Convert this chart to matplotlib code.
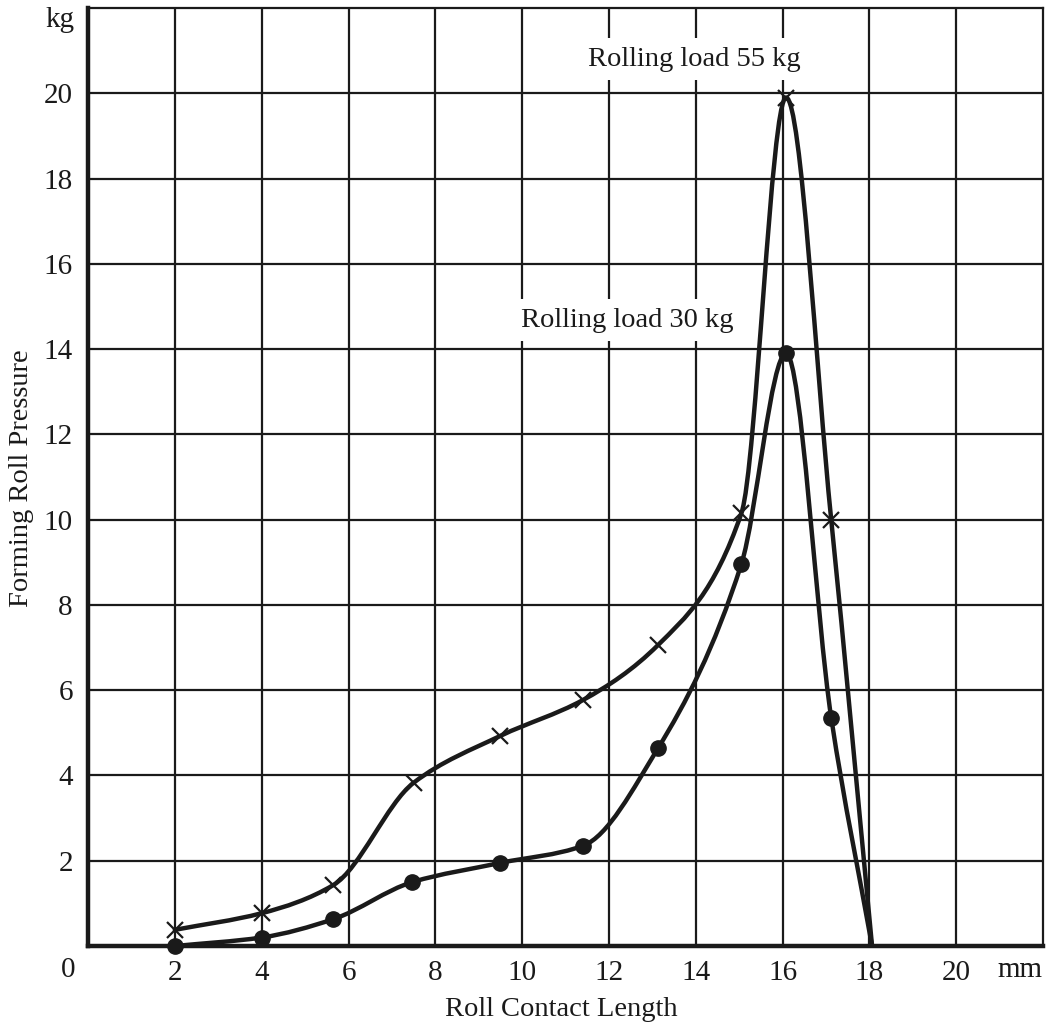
#!/usr/bin/env python3
"""forming roll pressure along the roll contact length"""
import numpy as np
import matplotlib.pyplot as plt
from matplotlib.path import Path
from matplotlib.patches import PathPatch

plt.rcParams['font.family'] = ['Liberation Serif', 'DejaVu Serif']

# rolling load 55 kg (x markers)
x55 = [2.0, 4.0, 5.65, 7.5, 9.5, 11.4, 13.13, 15.05, 16.08, 17.12, 18.06]
y55 = [0.38, 0.77, 1.43, 3.83, 4.93, 5.77, 7.06, 10.15, 19.9, 9.99, 0.0]

# rolling load 30 kg (dots)
x30 = [2.0, 4.0, 5.65, 7.47, 9.5, 11.4, 13.13, 15.05, 16.08, 17.12, 18.06]
y30 = [0.0, 0.2, 0.63, 1.5, 1.95, 2.35, 4.64, 8.96, 13.9, 5.35, 0.0]

xticks = [2, 4, 6, 8, 10, 12, 14, 16, 18, 20]
yticks = [2, 4, 6, 8, 10, 12, 14, 16, 18, 20]

INK = '#1a1a1a'


def smooth_path(xs, ys):
    """monotone cubic (pchip-like) through the points, as a bezier path"""
    x = np.asarray(xs, float)
    y = np.asarray(ys, float)
    h = np.diff(x)
    d = np.diff(y) / h
    m = np.zeros_like(y)
    m[0], m[-1] = d[0], d[-1]
    for i in range(1, len(x) - 1):
        if d[i - 1] * d[i] > 0:
            w1 = 2 * h[i] + h[i - 1]
            w2 = h[i] + 2 * h[i - 1]
            m[i] = (w1 + w2) / (w1 / d[i - 1] + w2 / d[i])
    verts = [(x[0], y[0])]
    codes = [Path.MOVETO]
    for i in range(len(x) - 1):
        verts += [(x[i] + h[i] / 3, y[i] + m[i] * h[i] / 3),
                  (x[i + 1] - h[i] / 3, y[i + 1] - m[i + 1] * h[i] / 3),
                  (x[i + 1], y[i + 1])]
        codes += [Path.CURVE4] * 3
    return Path(verts, codes)


fig = plt.figure(figsize=(10.53, 10.32), dpi=100)
ax = fig.add_axes([0.0836, 0.0833, 0.907, 0.9089])
ax.set_xlim(0, 22)
ax.set_ylim(0, 22)

ax.set_xticks(xticks)
ax.set_yticks(yticks)
ax.tick_params(length=0, labelsize=21, colors=INK)
ax.tick_params(axis='x', pad=10)
ax.tick_params(axis='y', pad=11)
ax.grid(True, color=INK, lw=1.6)
ax.set_axisbelow(True)

for side in ['top', 'right']:
    ax.spines[side].set_linewidth(1.6)
for side in ['left', 'bottom']:
    ax.spines[side].set_linewidth(3.2)
for sp in ax.spines.values():
    sp.set_color(INK)

for xs, ys in [(x55, y55), (x30, y30)]:
    ax.add_patch(PathPatch(smooth_path(xs, ys), fill=False,
                           lw=3.2, color=INK, zorder=3, capstyle='round'))

ax.plot(x55[:-1], y55[:-1], 'x', color=INK, ms=11, mew=1.6,
        zorder=4, clip_on=False)
ax.plot(x30[:-1], y30[:-1], 'o', color=INK, ms=11, zorder=4,
        clip_on=False)

box = dict(facecolor='white', edgecolor='none', pad=6)
ax.text(13.96, 20.8, 'Rolling load 55 kg', fontsize=20.5, ha='center',
        va='center', bbox=box, zorder=5, color=INK)
ax.text(12.42, 14.68, 'Rolling load 30 kg', fontsize=20.5, ha='center',
        va='center', bbox=box, zorder=5, color=INK)

W, H = 1053, 1032
fig.text(68 / W, 1 - 970 / H, '0', fontsize=21, ha='center',
         va='center', color=INK)
fig.text(1020 / W, 1 - 970 / H, 'mm', fontsize=21, ha='center',
         va='center', color=INK)
fig.text(60 / W, 1 - 20 / H, 'kg', fontsize=21, ha='center',
         va='center', color=INK)

fig.text(561 / W, 1 - 1010 / H, 'Roll Contact Length', fontsize=20.5,
         ha='center', va='center', color=INK)
fig.text(22 / W, 1 - 478 / H, 'Forming Roll Pressure', fontsize=20.5,
         ha='center', va='center', rotation=90, color=INK)

fig.savefig('out.png', dpi=100)
